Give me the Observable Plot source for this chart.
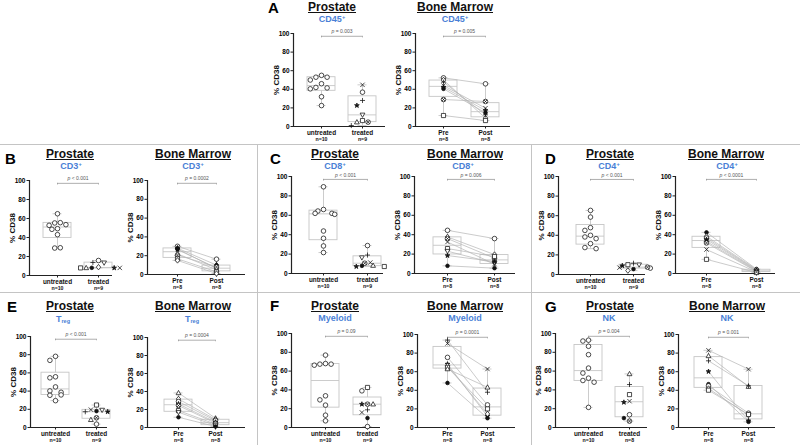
<!DOCTYPE html>
<html><head><meta charset="utf-8">
<script src="https://cdn.jsdelivr.net/npm/d3@7"></script>
<script src="https://cdn.jsdelivr.net/npm/@observablehq/plot@0.6"></script>
<style>
html,body{margin:0;padding:0;background:#fff;}
#fig{position:relative;width:800px;height:445px;overflow:hidden;font-family:"Liberation Sans",Arial,Helvetica,sans-serif;}
.lbl{position:absolute;white-space:nowrap;font-weight:bold;}
.title{text-decoration:underline;text-decoration-thickness:1px;text-underline-offset:1px;color:#111;}
.sub{color:#4a7fd6;}
.sub sup{font-size:0.62em;vertical-align:0.5em;line-height:0;}
.sub sub{font-size:0.62em;vertical-align:-0.25em;line-height:0;}
.hline{position:absolute;height:1px;background:#c4c4c4;}
.vline{position:absolute;width:1px;background:#c4c4c4;}
</style></head>
<body><div id="fig"></div>
<script>
// ---------------- DATA ----------------
const panelLetters = ["A","B","C","D","E","F","G"];
const cellTypes = ["CD45<sup>+</sup>","CD3<sup>+</sup>","CD8<sup>+</sup>","CD4<sup>+</sup>","T<sub>reg</sub>","Myeloid","NK"];
const prostateCats = ["untreated","treated"];
const marrowCats = ["Pre","Post"];
const nUntreated = ["n=10","n=10","n=10","n=10","n=10","n=10","n=10"];
const nTreated = ["n=9","n=9","n=9","n=9","n=9","n=9","n=8"];
const nMarrow = ["n=8","n=8","n=8","n=8","n=8","n=8","n=8"];
const pProstate = ["p = 0.003","p < 0.001","p < 0.001","p < 0.001","p < 0.001","p = 0.09","p = 0.004"];
const pMarrow = ["p = 0.005","p = 0.0002","p = 0.006","p < 0.0001","p = 0.0004","p = 0.0001","p = 0.001"];

// Prostate untreated (% CD38)
const untreatedA = [55, 53, 53, 50, 46, 42, 41.5, 40.5, 32, 22.5];
const untreatedB = [65, 55.6, 55.3, 53.5, 52.8, 49.3, 48.6, 43, 29.2, 28.9];
const untreatedC = [89.4, 66, 64.4, 62, 62, 61, 43.8, 36.3, 28.4, 21.6];
const untreatedD = [65.4, 58.6, 47.8, 45, 40, 38.3, 36.6, 31.5, 27.5, 26.4];
const untreatedE = [78.2, 73.8, 55.7, 54.6, 44.6, 40.2, 38.7, 35.8, 35.4, 29.5];
const untreatedF = [77, 68, 67.4, 67.4, 66.3, 33.7, 29.4, 23.8, 13.1, 7.1];
const untreatedG = [92.9, 92, 86.4, 77.5, 63.2, 57.9, 52.5, 50, 48.2, 21.4];

// Prostate treated (% CD38) and marker per patient
const treatedA = [44.8, 36.9, 28, 22.6, 12.5, 6.4, 4.7, 4.7, 1];
const treatedSymA = ["x","o","+","*","v","s","^","ox","+"];
const treatedB = [15.8, 13.7, 13.4, 8.8, 8.1, 8, 8, 8, 8];
const treatedSymB = ["o","+","v","d",".","*","^","x","s"];
const treatedC = [28.8, 19, 16.4, 11.3, 10.6, 8.2, 7.9, 7.2, 7.2];
const treatedSymC = ["o","+","v","x","ox","^",".","s","*"];
const treatedD = [11.5, 10, 10, 9, 7.5, 7, 6.5, 5.5, 4];
const treatedSymD = ["+","s","v","*","ox","x","o",".","d"];
const treatedE = [24.7, 19.6, 19.2, 18, 17.3, 17.3, 10.7, 8.5, 3.7];
const treatedSymE = ["s","x","v",".","+","*","ox","^","o"];
const treatedF = [42.6, 39, 24.8, 24.8, 24.8, 18.8, 16, 10, 1];
const treatedSymF = ["s","o","ox","*","^","+","x",".","o"];
const treatedG = [57, 45.7, 35, 28, 26.8, 13.6, 10, 6.8];
const treatedSymG = ["^","+","s","x","*","o",".","ox"];

// Bone marrow paired (Pre / Post), marker per patient
const marrowSymA = ["o","d","+","*",".","ox","s","x"];
const preA = [52.3, 50, 47.7, 42.3, 40.5, 29, 11.8, 44];
const postA = [45.9, 9, 12.5, 17.2, 14.7, 26.9, 6.4, 19.7];
const marrowSymB = ["o","D",".","*","^","ox","s","d"];
const preB = [30, 28, 27, 26.5, 22, 20.6, 16.7, 15];
const postB = [16.3, 10, 6.4, 7, 5, 8, 2.8, 1];
const marrowSymC = ["o","d","ox","x","s","v","*","."];
const preC = [44.5, 37.7, 36, 32.5, 25.7, 23, 18.5, 7.9];
const postC = [36, 19.5, 15.8, 9.6, 17.5, 10.6, 12.3, 5.5];
const marrowSymD = [".","d","o","*","D","ox","x","s"];
const preD = [42.4, 38.3, 36.6, 35, 33, 31.5, 24.7, 14.6];
const postD = [4.5, 4, 3.5, 3, 2.5, 2, 1.5, 1];
const marrowSymE = ["^","d","o","*","ox","s","v","."];
const preE = [38.4, 31.7, 28.8, 26.2, 24.4, 18.8, 17, 11.4];
const postE = [10.3, 8.9, 7.7, 5.9, 4.8, 3.7, 2.2, 1.1];
const marrowSymF = ["x","+","o","*","d","s","^","."];
const preF = [90.4, 94, 75.4, 68.2, 66.4, 64.6, 62.9, 47.9];
const postF = [62.9, 37.9, 24.3, 12.1, 14.6, 20, 43.2, 10];
const marrowSymG = ["x","^","+","*",".","o","d","s"];
const preG = [83, 77, 71.7, 60.2, 46.6, 44.8, 41.9, 40.1];
const postG = [62.7, 44, 44.8, 7.2, 6.1, 15.4, 13.3, 14];

const yTicks = [0, 20, 40, 60, 80, 100];

// ---------------- LAYOUT (pixel positions of axes) ----------------
const layout = [
  {p:{ax0:293,ax1:385,y100:33,y0:126,c1:321,c2:362}, b:{ax0:415,ax1:510,y100:33,y0:126,c1:443,c2:485}},
  {p:{ax0:29,ax1:112,y100:180,y0:275,c1:57,c2:98},   b:{ax0:147,ax1:245,y100:180,y0:274,c1:177,c2:216}},
  {p:{ax0:291,ax1:383,y100:176,y0:273,c1:323,c2:367},b:{ax0:414,ax1:515,y100:176,y0:273,c1:447,c2:494}},
  {p:{ax0:558,ax1:645,y100:176,y0:274,c1:590,c2:633},b:{ax0:675,ax1:775,y100:176,y0:273,c1:706,c2:756}},
  {p:{ax0:30,ax1:107,y100:336,y0:427,c1:55,c2:96},   b:{ax0:147,ax1:245,y100:337,y0:427,c1:178,c2:215}},
  {p:{ax0:291,ax1:380,y100:333,y0:427,c1:325,c2:367},b:{ax0:417,ax1:515,y100:334,y0:427,c1:447,c2:487}},
  {p:{ax0:555,ax1:647,y100:333,y0:427,c1:588,c2:629},b:{ax0:678,ax1:775,y100:334,y0:427,c1:708,c2:748}}
];
const titlePos = [
  {letter:[268,2], p:[332,2.4], ps:[332,16], b:[455,2.4], bs:[455,16]},
  {letter:[5,153], p:[70,150], ps:[71,163], b:[193,150], bs:[193,163]},
  {letter:[270,153], p:[335,150], ps:[335,163], b:[465,150], bs:[463,163]},
  {letter:[545,153], p:[610,150], ps:[609,163], b:[726,150], bs:[727,163]},
  {letter:[7,301], p:[70,301.5], ps:[63,316], b:[193,301.5], bs:[192,316]},
  {letter:[270,300], p:[335,301.5], ps:[335,314.8], b:[465,301.5], bs:[465,314.8]},
  {letter:[545,301], p:[610,301.5], ps:[609,315], b:[727,301.5], bs:[727,315]}
];

const untreated = [untreatedA,untreatedB,untreatedC,untreatedD,untreatedE,untreatedF,untreatedG];
const treated = [treatedA,treatedB,treatedC,treatedD,treatedE,treatedF,treatedG];
const treatedSym = [treatedSymA,treatedSymB,treatedSymC,treatedSymD,treatedSymE,treatedSymF,treatedSymG];
const pre = [preA,preB,preC,preD,preE,preF,preG];
const post = [postA,postB,postC,postD,postE,postF,postG];
const marrowSym = [marrowSymA,marrowSymB,marrowSymC,marrowSymD,marrowSymE,marrowSymF,marrowSymG];

// ---------------- SYMBOLS ----------------
const R = s => Math.sqrt(s / Math.PI);
const SYM = {
  "o": {fill:"white", draw(c,s){const r=R(s); c.moveTo(r,0); c.arc(0,0,r,0,2*Math.PI); c.closePath();}},
  ".": {fill:"#111", draw(c,s){const r=R(s)*0.8; c.moveTo(r,0); c.arc(0,0,r,0,2*Math.PI); c.closePath();}},
  "s": {fill:"white", draw(c,s){const h=R(s)*0.9; c.moveTo(-h,-h); c.lineTo(h,-h); c.lineTo(h,h); c.lineTo(-h,h); c.closePath();}},
  "^": {fill:"white", draw(c,s){const r=R(s)*1.1; c.moveTo(0,-r); c.lineTo(r*0.95,r*0.7); c.lineTo(-r*0.95,r*0.7); c.closePath();}},
  "v": {fill:"white", draw(c,s){const r=R(s)*1.1; c.moveTo(0,r); c.lineTo(r*0.95,-r*0.7); c.lineTo(-r*0.95,-r*0.7); c.closePath();}},
  "d": {fill:"white", draw(c,s){const r=R(s)*1.2; c.moveTo(0,-r); c.lineTo(r*0.8,0); c.lineTo(0,r); c.lineTo(-r*0.8,0); c.closePath();}},
  "D": {fill:"#111", draw(c,s){const r=R(s)*1.2; c.moveTo(0,-r); c.lineTo(r*0.8,0); c.lineTo(0,r); c.lineTo(-r*0.8,0); c.closePath();}},
  "x": {fill:"none", draw(c,s){const r=R(s)*0.95; c.moveTo(-r,-r); c.lineTo(r,r); c.moveTo(r,-r); c.lineTo(-r,r);}},
  "+": {fill:"none", draw(c,s){const r=R(s)*1.1; c.moveTo(-r,0); c.lineTo(r,0); c.moveTo(0,-r); c.lineTo(0,r);}},
  "*": {fill:"#111", draw(c,s){d3.symbolStar.draw(c, s*0.42);}},
  "ox":{fill:"white", draw(c,s){const r=R(s); c.moveTo(r,0); c.arc(0,0,r,0,2*Math.PI); c.closePath(); const q=r*0.7; c.moveTo(-q,-q); c.lineTo(q,q); c.moveTo(q,-q); c.lineTo(-q,q);}}
};

// ---------------- HELPERS ----------------
function boxStats(vals, cat){
  const s = [...vals].sort((a,b)=>a-b), n = s.length;
  const q = p => { const pos=(n+1)*p; const lo=Math.floor(pos), hi=Math.ceil(pos);
    const a=s[Math.max(0,Math.min(n-1,lo-1))], b=s[Math.max(0,Math.min(n-1,hi-1))];
    return a+(b-a)*(pos-lo); };
  return {cat, min:s[0], q1:q(0.25), med:q(0.5), q3:q(0.75), max:s[n-1]};
}
// simple beeswarm (horizontal spread of overlapping points), rows re-centred
function swarm(vals, cat, kx, ky, d){
  const placed=[], out=new Array(vals.length), offs=new Array(vals.length);
  const order=d3.range(vals.length).sort((i,j)=>vals[j]-vals[i]);
  for(const i of order){
    const py=vals[i]*ky; let off=0;
    for(let step=0; step<40; step++){
      off = step===0 ? 0 : (step%2 ? -1 : 1)*Math.ceil(step/2)*d;
      if(placed.every(p=>Math.hypot(p.x-off,p.y-py) >= d-0.01)) break;
    }
    placed.push({x:off,y:py,i}); offs[i]=off;
  }
  const rows = d3.groups(placed, p=>Math.round(p.y/1.2));
  for(const [,row] of rows){
    if(row.length>1){ const m=d3.mean(row,p=>p.x); row.forEach(p=>offs[p.i]=p.x-m); }
  }
  vals.forEach((v,i)=>out[i]=cat+offs[i]/kx);
  return out;
}

const fig = document.getElementById("fig");
const FONT = '"Liberation Sans", Arial, Helvetica, sans-serif';

function subplot(L, pts, pairs, pText, catNames, nLabels){
  const k = L.c2 - L.c1;
  const x0 = 1 - (L.c1 - L.ax0)/k, x1 = 1 + (L.ax1 - L.c1)/k;
  const mL=26, mR=4, mT=14, mB=17;
  const width = mL + (L.ax1 - L.ax0) + mR;
  const height = mT + (L.y0 - L.y100) + mB;
  const bw = 14/k, cw = 4.5/k;
  const stats = [boxStats(pts.filter(d=>d.cat===1).map(d=>d.y),1), boxStats(pts.filter(d=>d.cat===2).map(d=>d.y),2)];
  const boxStroke = "#c6c6c6";
  const marks = [
    Plot.rect(stats, {x1:d=>d.cat-bw, x2:d=>d.cat+bw, y1:"q1", y2:"q3", fill:"none", stroke:boxStroke, strokeWidth:0.9}),
    Plot.ruleY(stats, {y:"med", x1:d=>d.cat-bw, x2:d=>d.cat+bw, stroke:boxStroke, strokeWidth:0.9}),
    Plot.ruleX(stats, {x:"cat", y1:"min", y2:"q1", stroke:boxStroke, strokeWidth:0.9}),
    Plot.ruleX(stats, {x:"cat", y1:"q3", y2:"max", stroke:boxStroke, strokeWidth:0.9}),
    Plot.ruleY(stats, {y:"min", x1:d=>d.cat-cw, x2:d=>d.cat+cw, stroke:boxStroke, strokeWidth:0.9}),
    Plot.ruleY(stats, {y:"max", x1:d=>d.cat-cw, x2:d=>d.cat+cw, stroke:boxStroke, strokeWidth:0.9})
  ];
  if(pairs){
    marks.push(Plot.link(pairs, {x1:()=>1, x2:()=>2, y1:"pre", y2:"post", stroke:"#b4b4b4", strokeWidth:0.7}));
  }
  marks.push(
    Plot.ruleX([x0], {y1:()=>0, y2:()=>100, stroke:"#222", strokeWidth:1.2}),
    Plot.ruleY([0], {x1:()=>x0, x2:()=>x1, stroke:"#222", strokeWidth:1.2}),
    Plot.axisY({ticks:yTicks, tickSize:2.5, tickPadding:1.5, fontSize:6.5, fontWeight:"bold", label:null, anchor:"left", stroke:"#222"}),
    Plot.axisX({ticks:[1,2], tickSize:2.5, tickFormat:()=>"", label:null, anchor:"bottom", stroke:"#222"}),
    Plot.text(catNames, {x:(d,i)=>i+1, y:()=>0, dy:6.0, fontSize:6.4, fontWeight:"bold", fill:"#111"}),
    Plot.text(nLabels, {x:(d,i)=>i+1, y:()=>0, dy:12.4, fontSize:5.2, fontWeight:"bold", fill:"#111"}),
    Plot.text(["% CD38"], {x:()=>x0, y:()=>50, dx:-17, rotate:-90, fontSize:8, fontWeight:"bold", fill:"#111"}),
    Plot.ruleY([97], {x1:()=>1, x2:()=>2, stroke:"#9a9a9a", strokeWidth:0.8}),
    Plot.ruleX([1,2], {y1:()=>95.3, y2:()=>97, stroke:"#9a9a9a", strokeWidth:0.8}),
    Plot.text([pText], {x:()=>1.5, y:()=>97, dy:-4.5, fontSize:5, fill:"#555"})
  );
  const keys = Array.from(new Set(pts.map(d=>d.sym)));
  keys.sort((a,b)=> (SYM[a].fill==="none") - (SYM[b].fill==="none"));
  for(const key of keys){
    const def = SYM[key];
    marks.push(Plot.dot(pts.filter(d=>d.sym===key), {x:"x", y:"y", r:2.3, symbol:{draw:def.draw}, fill:def.fill, stroke:"#111", strokeWidth:0.75}));
  }
  const svg = Plot.plot({
    width, height, marginLeft:mL, marginRight:mR, marginTop:mT, marginBottom:mB,
    x:{type:"linear", domain:[x0,x1], axis:null},
    y:{type:"linear", domain:[0,100], axis:null},
    style:{fontFamily:FONT, background:"transparent", overflow:"visible"},
    marks
  });
  svg.style.position = "absolute";
  svg.style.left = (L.ax0 - mL) + "px";
  svg.style.top = (L.y100 - mT) + "px";
  svg.style.maxWidth = "none";
  d3.select(svg).selectAll("text").filter(function(){return /^p [=<]/.test(this.textContent);}).each(function(){
    const t = this.textContent.slice(1); this.textContent = "";
    d3.select(this).append("tspan").attr("font-style","italic").text("p");
    d3.select(this).append("tspan").text(t);
  });
  fig.appendChild(svg);
}

function label(html, cx, capTop, fs, cls, lh, left){
  const el = document.createElement("div");
  el.className = "lbl " + cls;
  el.innerHTML = html;
  el.style.fontSize = fs + "px";
  el.style.lineHeight = lh;
  el.style.top = (capTop - (lh/2 - 0.3695)*fs) + "px";
  el.style.left = cx + "px";
  if(!left) el.style.transform = "translateX(-50%)";
  fig.appendChild(el);
}

// dividers
[144,292].forEach(y=>{ const d=document.createElement("div"); d.className="hline"; d.style.left="0px"; d.style.width="800px"; d.style.top=y+"px"; fig.appendChild(d); });
[257,531].forEach(x=>{ const d=document.createElement("div"); d.className="vline"; d.style.left=x+"px"; d.style.top="144px"; d.style.height="301px"; fig.appendChild(d); });

panelLetters.forEach((letter, i)=>{
  const T = titlePos[i];
  label(letter, T.letter[0], T.letter[1], 15, "", 1, true);
  label("Prostate", T.p[0], T.p[1], 12, "title", 0.85);
  label(cellTypes[i], T.ps[0], T.ps[1], 9, "sub", 0.8);
  label("Bone Marrow", T.b[0], T.b[1], 12, "title", 0.85);
  label(cellTypes[i], T.bs[0], T.bs[1], 9, "sub", 0.8);

  const Lp = layout[i].p, kp = Lp.c2 - Lp.c1, kyp = (Lp.y0 - Lp.y100)/100;
  const ux = swarm(untreated[i], 1, kp, kyp, 5.6);
  const tx = swarm(treated[i], 2, kp, kyp, 5.6);
  const pPts = untreated[i].map((v,j)=>({cat:1, x:ux[j], y:v, sym:"o"}))
    .concat(treated[i].map((v,j)=>({cat:2, x:tx[j], y:v, sym:treatedSym[i][j]})));
  subplot(Lp, pPts, null, pProstate[i], prostateCats, [nUntreated[i], nTreated[i]]);

  const Lb = layout[i].b;
  const bPts = pre[i].map((v,j)=>({cat:1, x:1, y:v, sym:marrowSym[i][j]}))
    .concat(post[i].map((v,j)=>({cat:2, x:2, y:v, sym:marrowSym[i][j]})));
  const pairs = pre[i].map((v,j)=>({pre:v, post:post[i][j]}));
  subplot(Lb, bPts, pairs, pMarrow[i], marrowCats, [nMarrow[i], nMarrow[i]]);
});
</script>
</body></html>
